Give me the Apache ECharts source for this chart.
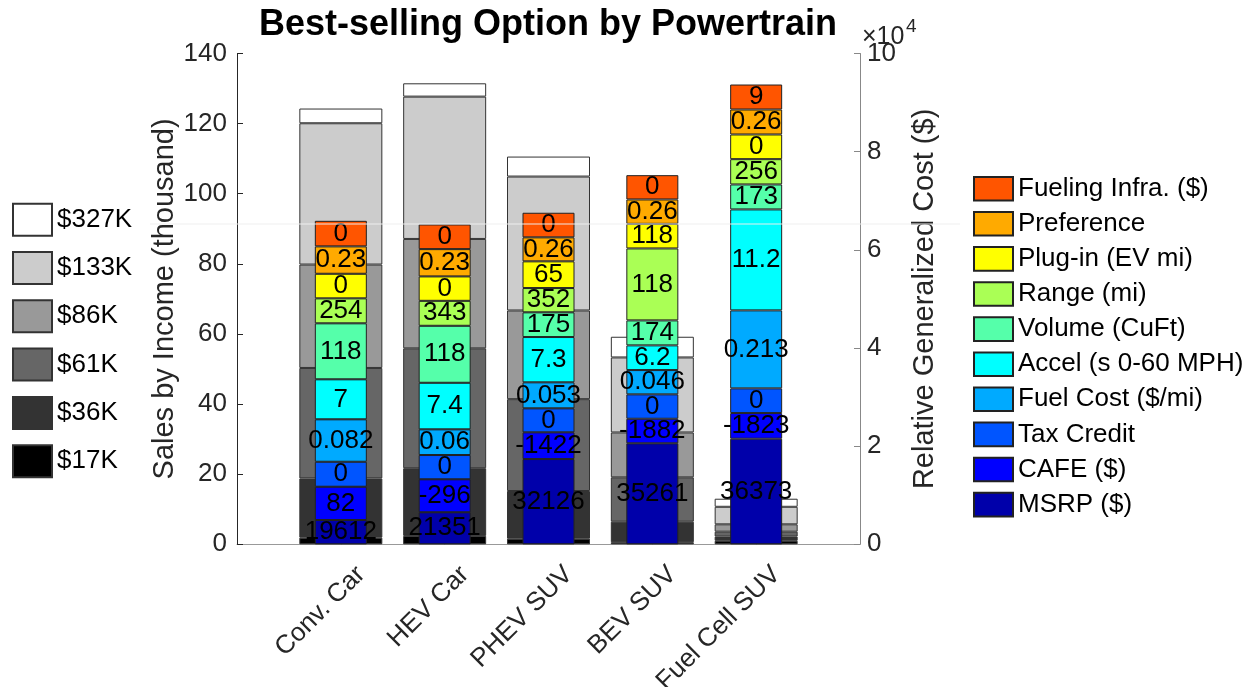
<!DOCTYPE html>
<html>
<head>
<meta charset="utf-8">
<script src="https://cdn.jsdelivr.net/npm/echarts@6/dist/echarts.min.js"></script>
<style>
  html, body { margin: 0; padding: 0; background: #fff; }
  #chart { width: 1250px; height: 687px; }
</style>
</head>
<body>
<div id="chart"></div>
<script>
// Powertrain options; the axis carries an empty slot on each side
const categories = ['Conv. Car', 'HEV Car', 'PHEV SUV', 'BEV SUV', 'Fuel Cell SUV'];

// Sales by income group, thousands (bottom to top of each wide bar)
const incomeGroups = ['$17K', '$36K', '$61K', '$86K', '$133K', '$327K'];
const incomeColors = ['#000000', '#333333', '#666666', '#999999', '#cccccc', '#ffffff'];
const sales17K  = [1.9, 2.4, 1.6, 0.6, 1.0];
const sales36K  = [16.9, 19.3, 13.6, 5.85, 1.2];
const sales61K  = [31.5, 34.2, 26.2, 12.65, 1.4];
const sales86K  = [29.5, 31.2, 25.3, 12.8, 2.1];
const sales133K = [40.3, 40.6, 38.2, 21.4, 5.0];
const sales327K = [4.2, 3.8, 5.7, 5.9, 2.3];
const salesByIncome = [sales17K, sales36K, sales61K, sales86K, sales133K, sales327K];

// Relative generalized cost components, $ (bottom to top of each narrow bar)
const costNames = ['MSRP ($)', 'CAFE ($)', 'Tax Credit', 'Fuel Cost ($/mi)', 'Accel (s 0-60 MPH)',
                   'Volume (CuFt)', 'Range (mi)', 'Plug-in (EV mi)', 'Preference', 'Fueling Infra. ($)'];
const costColors = ['#0000aa', '#0000ff', '#0055ff', '#00aaff', '#00ffff',
                    '#55ffaa', '#aaff55', '#ffff00', '#ffaa00', '#ff5500'];
const costMSRP    = [4950, 6520, 17370, 20570, 21510];
const costCAFE    = [6780, 6720, 5440, 5010, 5230];
const costTax     = [5090, 4950, 4890, 4970, 5030];
const costFuel    = [8640, 5230, 5300, 4950, 15890];
const costAccel   = [8150, 9490, 9230, 5030, 20570];
const costVolume  = [11410, 11610, 5030, 5090, 5090];
const costRange   = [5090, 5090, 4950, 14660, 5150];
const costPlugin  = [5010, 4970, 5440, 5010, 5030];
const costPref    = [5580, 5560, 4890, 4970, 5090];
const costInfra   = [5210, 5030, 5010, 4950, 5090];
const costValues = [costMSRP, costCAFE, costTax, costFuel, costAccel,
                    costVolume, costRange, costPlugin, costPref, costInfra];

// Attribute values printed on each cost segment
const lblMSRP   = ['19612', '21351', '32126', '35261', '36373'];
const lblCAFE   = ['82', '-296', '-1422', '-1882', '-1823'];
const lblTax    = ['0', '0', '0', '0', '0'];
const lblFuel   = ['0.082', '0.06', '0.053', '0.046', '0.213'];
const lblAccel  = ['7', '7.4', '7.3', '6.2', '11.2'];
const lblVolume = ['118', '118', '175', '174', '173'];
const lblRange  = ['254', '343', '352', '118', '256'];
const lblPlugin = ['0', '0', '65', '118', '0'];
const lblPref   = ['0.23', '0.23', '0.26', '0.26', '0.26'];
const lblInfra  = ['0', '0', '0', '0', '9'];
const costLabels = [lblMSRP, lblCAFE, lblTax, lblFuel, lblAccel,
                    lblVolume, lblRange, lblPlugin, lblPref, lblInfra];

// Axis ticks
const leftTicks = { min: 0, max: 140, interval: 20 };
const rightTicks = { min: 0, max: 100000, interval: 20000, scale: 10000 };

const FONT = '"Liberation Sans", Arial, Helvetica, sans-serif';
const axisCats = [''].concat(categories, ['']);
const pad = arr => [null].concat(arr, [null]);

const series = [];
incomeGroups.forEach((name, k) => {
  series.push({
    name, type: 'bar', xAxisIndex: 0, yAxisIndex: 0, stack: 'income', barWidth: 83,
    itemStyle: { color: incomeColors[k], borderColor: '#333', borderWidth: 1 },
    emphasis: { disabled: true },
    data: pad(salesByIncome[k])
  });
});
costNames.forEach((name, k) => {
  const labels = pad(costLabels[k]);
  series.push({
    name, type: 'bar', xAxisIndex: 1, yAxisIndex: 1, stack: 'cost', barWidth: 52,
    itemStyle: { color: costColors[k], borderColor: '#222', borderWidth: 1 },
    emphasis: { disabled: true },
    label: {
      show: true, position: 'inside', color: '#000', fontSize: 26, fontFamily: FONT,
      formatter: p => labels[p.dataIndex]
    },
    data: pad(costValues[k])
  });
});

const chart = echarts.init(document.getElementById('chart'), null, { renderer: 'canvas' });
chart.setOption({
  backgroundColor: '#ffffff',
  animation: false,
  grid: { left: 237, right: 390, top: 53.5, bottom: 142.7, containLabel: false, outerBoundsMode: 'none' },
  legend: [
    {
      data: incomeGroups.slice().reverse(), orient: 'vertical', left: 7, top: 197.7,
      itemWidth: 39, itemHeight: 32, itemGap: 14.3, icon: 'rect', selectedMode: false,
      textStyle: { fontSize: 26, fontFamily: FONT, color: '#000' }
    },
    {
      data: costNames.slice().reverse(), orient: 'vertical', left: 968, top: 170.7,
      itemWidth: 39, itemHeight: 23.6, itemGap: 9.1, icon: 'rect', selectedMode: false,
      textStyle: { fontSize: 26, lineHeight: 23.6, fontFamily: FONT, color: '#000' }
    }
  ],
  xAxis: [
    {
      type: 'category', data: axisCats, boundaryGap: false, gridIndex: 0,
      splitLine: { show: false },
      axisLine: { show: true, lineStyle: { color: '#999', width: 1 } },
      axisTick: { show: true, inside: true, length: 6, interval: i => i > 0 && i < axisCats.length - 1,
                  lineStyle: { color: '#666' } },
      axisLabel: {
        interval: 0, rotate: 45, margin: 6, fontSize: 26, fontFamily: FONT, color: '#262626',
        verticalAlign: 'top', lineHeight: 57
      }
    },
    { type: 'category', data: axisCats, boundaryGap: false, gridIndex: 0, show: false }
  ],
  yAxis: [
    {
      type: 'value', min: leftTicks.min, max: leftTicks.max, interval: leftTicks.interval,
      position: 'left',
      name: 'Sales by Income (thousand)', nameLocation: 'middle', nameRotate: 90, nameGap: 57,
      nameTextStyle: { fontSize: 29, fontFamily: FONT, color: '#262626' },
      splitLine: { show: false },
      axisLine: { show: true, lineStyle: { color: '#262626', width: 1 } },
      axisTick: { show: true, inside: true, length: 6, lineStyle: { color: '#262626' } },
      axisLabel: { margin: 10, fontSize: 26, fontFamily: FONT, color: '#262626' }
    },
    {
      type: 'value', min: rightTicks.min, max: rightTicks.max, interval: rightTicks.interval,
      position: 'right', alignTicks: false,
      name: 'Relative Generalized Cost ($)', nameLocation: 'middle', nameRotate: 90, nameGap: 50,
      nameTextStyle: { fontSize: 29, fontFamily: FONT, color: '#262626' },
      splitLine: { show: false },
      axisLine: { show: true, lineStyle: { color: '#888', width: 1 } },
      axisTick: { show: true, inside: true, length: 6, lineStyle: { color: '#888' } },
      axisLabel: {
        margin: 7, fontSize: 26, fontFamily: FONT, color: '#262626',
        formatter: v => String(v / rightTicks.scale)
      }
    }
  ],
  graphic: [
    {
      type: 'text', x: 548, y: 25, z: 50,
      style: { text: 'Best-selling Option by Powertrain', fontSize: 36, fontWeight: 'bold',
               fontFamily: FONT, fill: '#000', align: 'center', verticalAlign: 'middle' }
    },
    {
      type: 'text', x: 862, y: 37, z: 50,
      style: { text: '×10', fontSize: 25, fontFamily: FONT, fill: '#262626',
               align: 'left', verticalAlign: 'middle' }
    },
    {
      type: 'text', x: 906, y: 27, z: 50,
      style: { text: '4', fontSize: 19, fontFamily: FONT, fill: '#262626',
               align: 'left', verticalAlign: 'middle' }
    },
    {
      type: 'rect', z: 100, silent: true,
      shape: { x: 150, y: 223.3, width: 810, height: 1.5 },
      style: { fill: 'rgba(238,238,238,0.65)' }
    }
  ],
  series
});
</script>
</body>
</html>
